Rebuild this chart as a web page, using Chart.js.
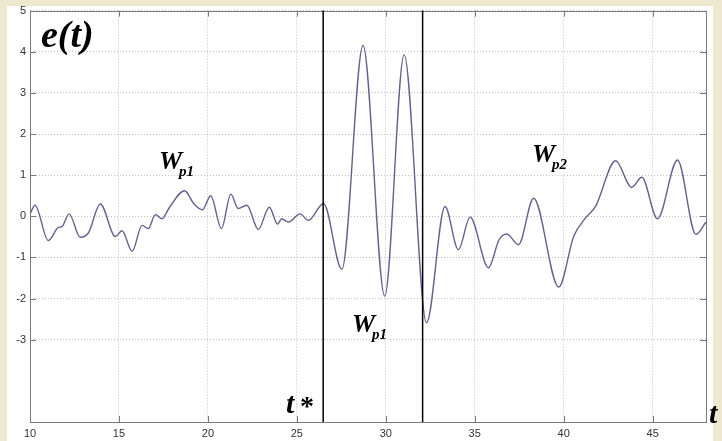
<!DOCTYPE html>
<html>
<head>
<meta charset="utf-8">
<script src="https://cdn.jsdelivr.net/npm/chart.js@4"></script>
<style>
  html, body { margin: 0; padding: 0; background: #efe8d0; }
  #wrap { width: 722px; height: 441px; position: relative; }
</style>
</head>
<body>
<div id="wrap"><canvas id="chart"></canvas></div>
<script>
// time samples (local peaks, troughs and shoulders)
const tValues = [
  10.0, 10.28, 11.03, 11.6, 11.8, 12.2, 12.82, 13.29, 13.95, 14.8,
  15.17, 15.74, 16.3, 16.64, 17.05, 17.43, 17.8, 18.69, 19.22, 19.69,
  20.16, 20.76, 21.29, 21.7, 22.19, 22.83, 23.45, 23.92, 24.15, 24.52,
  25.18, 25.65, 26.5, 27.53, 28.72, 29.94, 31.03, 32.29, 33.33, 34.08,
  34.74, 35.77, 36.37, 36.8, 37.46, 38.31, 39.72, 40.57, 41.23, 41.79,
  42.92, 43.82, 44.39, 45.27, 46.4, 47.43, 48.0
];
const eValues = [
  0.05, 0.27, -0.59, -0.27, -0.25, 0.06, -0.51, -0.40, 0.30, -0.49,
  -0.35, -0.85, -0.22, -0.30, 0.04, -0.06, 0.19, 0.62, 0.30, 0.16,
  0.50, -0.30, 0.54, 0.19, 0.27, -0.32, 0.22, -0.19, -0.06, -0.14,
  0.06, -0.10, 0.31, -1.29, 4.15, -1.94, 3.93, -2.59, 0.24, -0.81,
  -0.02, -1.25, -0.57, -0.43, -0.69, 0.44, -1.72, -0.48, -0.04, 0.24,
  1.35, 0.70, 0.95, -0.06, 1.37, -0.44, -0.14
];
const xTicks = [10, 15, 20, 25, 30, 35, 40, 45];
const yTicks = [-5, -4, -3, -2, -1, 0, 1, 2, 3, 4, 5];
const yLabelMin = -3;          // labels / grid below this are not shown
const markerLines = [26.48, 32.07]; // t* and end of the W_p1 window

const points = tValues.map((t, i) => ({ x: t, y: eValues[i] }));

const gridColor = '#c0c0c0';
const axisColor = '#7a7a7a';

// frame, inward ticks, marker lines and the italic labels
const decor = {
  id: 'decor',
  beforeDraw(chart) {
    const c = chart.ctx;
    c.save();
    c.fillStyle = '#efe8d0';
    c.fillRect(0, 0, chart.width, chart.height);
    c.fillStyle = '#ffffff';
    c.fillRect(7, 6, 706, chart.height - 6);
    c.restore();
  },
  afterDraw(chart) {
    const c = chart.ctx;
    const a = chart.chartArea;
    const xs = chart.scales.x, ys = chart.scales.y;
    c.save();
    c.setLineDash([]);

    // inward tick marks
    c.strokeStyle = axisColor;
    c.lineWidth = 1;
    c.beginPath();
    xTicks.forEach(v => {
      const px = Math.round(xs.getPixelForValue(v)) + 0.5;
      c.moveTo(px, a.bottom); c.lineTo(px, a.bottom - 6);
      c.moveTo(px, a.top); c.lineTo(px, a.top + 6);
    });
    yTicks.filter(v => v >= yLabelMin).forEach(v => {
      const py = Math.round(ys.getPixelForValue(v)) + 0.5;
      c.moveTo(a.left, py); c.lineTo(a.left + 6, py);
      c.moveTo(a.right, py); c.lineTo(a.right - 6, py);
    });
    c.stroke();

    // box
    c.strokeRect(Math.round(a.left) + 0.5, Math.round(a.top) + 0.5,
                 Math.round(a.right - a.left), Math.round(a.bottom - a.top));

    // vertical marker lines
    c.strokeStyle = '#000000';
    c.lineWidth = 1.5;
    markerLines.forEach(v => {
      const px = xs.getPixelForValue(v);
      c.beginPath();
      c.moveTo(px, a.top);
      c.lineTo(px, a.bottom);
      c.stroke();
    });

    // labels
    c.fillStyle = '#000000';
    c.textBaseline = 'alphabetic';
    c.textAlign = 'left';
    const serif = '"Liberation Serif", "Times New Roman", serif';
    const mid = 'italic bold 26px ' + serif;
    const sub = 'italic bold 15px ' + serif;

    c.font = 'italic bold 38px ' + serif;
    c.fillText('e(t)', 41, 47);

    const wLabel = (x, y, s) => {
      c.font = mid;
      c.fillText('W', x, y);
      const w = c.measureText('W').width;
      c.font = sub;
      c.fillText(s, x + w - 3, y + 7);
    };
    wLabel(159, 169, 'p1');
    wLabel(532, 162, 'p2');
    wLabel(352, 332, 'p1');

    c.font = 'italic bold 30px ' + serif;
    c.fillText('t', 286, 413);
    c.font = 'bold 28px ' + serif;
    c.fillText('*', 300, 415);
    c.font = 'italic bold 30px ' + serif;
    c.fillText('t', 709, 423);
    c.restore();
  }
};

new Chart(document.getElementById('chart'), {
  type: 'line',
  data: {
    datasets: [{
      data: points,
      borderColor: '#62628f',
      borderWidth: 1.4,
      pointRadius: 0,
      fill: false,
      cubicInterpolationMode: 'monotone'
    }]
  },
  options: {
    responsive: true,
    maintainAspectRatio: false,
    animation: false,
    layout: { padding: { left: 0, top: 9, right: 16, bottom: 0 } },
    plugins: { legend: { display: false }, tooltip: { enabled: false } },
    scales: {
      x: {
        type: 'linear',
        min: 10,
        max: 48,
        afterFit: s => { s.height = 19; },
        afterBuildTicks: s => { s.ticks = xTicks.map(v => ({ value: v })); },
        border: { display: false, dash: [1, 2] },
        grid: { color: gridColor, drawTicks: false, lineWidth: 1 },
        ticks: {
          padding: 5,
          color: '#333333',
          font: { family: 'Liberation Sans, Arial, sans-serif', size: 11 },
          maxRotation: 0
        }
      },
      y: {
        min: -5,
        max: 5,
        afterFit: s => { s.width = 30; },
        afterBuildTicks: s => { s.ticks = yTicks.map(v => ({ value: v })); },
        border: { display: false, dash: [1, 2] },
        grid: {
          drawTicks: false,
          lineWidth: 1,
          color: ctx => (ctx.tick && ctx.tick.value < yLabelMin) ? 'rgba(0,0,0,0)' : gridColor
        },
        ticks: {
          padding: 4,
          color: '#333333',
          font: { family: 'Liberation Sans, Arial, sans-serif', size: 11 },
          callback: v => (v < yLabelMin ? '' : String(v))
        }
      }
    }
  },
  plugins: [decor]
});
</script>
</body>
</html>
